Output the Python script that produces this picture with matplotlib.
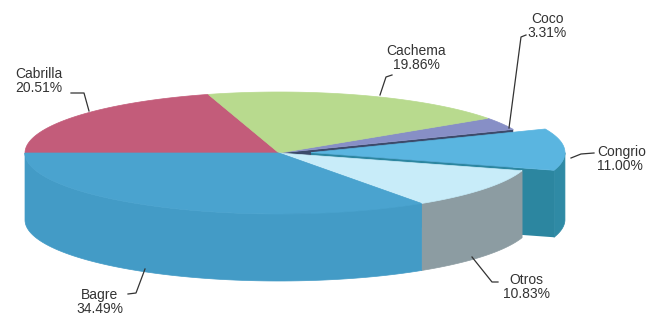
import matplotlib.pyplot as plt
import numpy as np
from matplotlib.patches import Polygon

plt.rcParams['font.family'] = ['Liberation Sans', 'DejaVu Sans']

# species shares, in the order they sit clockwise from the left edge
species = ['Cabrilla', 'Cachema', 'Coco', 'Congrio', 'Otros', 'Bagre']
shares = [20.51, 19.86, 3.31, 11.00, 10.83, 34.49]
explode = [0, 0, 0, 1, 0, 0]

top_colors = ['#c35c7a', '#b8da8e', '#878fc6', '#5ab5e0', '#c8ecf9', '#4aa3cf']
wall_colors = ['#9c4760', '#93ae70', '#5e6497', '#2f8aa5', '#8c9ca2', '#439bc6']

# projected pie geometry (pixels)
cx, cy = 279, 153
a, b = 254, 61
depth = 67
push = 32

fig = plt.figure(figsize=(6.5, 3.29), dpi=100)
ax = fig.add_axes([0, 0, 1, 1])
ax.set_xlim(0, 650)
ax.set_ylim(329, 0)
ax.axis('off')

def rim(t, ox, oy, dz=0):
    t = np.radians(t)
    return np.column_stack([ox + a * np.cos(t), oy - b * np.sin(t) + dz])

# slice angles, clockwise from 180 degrees
total = sum(shares)
angles = []
start = 180.0
for s in shares:
    end = start - 360.0 * s / total
    angles.append((end, start))
    start = end

def draw_walls(i, ox, oy):
    lo, hi = angles[i]
    # outer wall, only the part facing the viewer (lower half of the ellipse)
    w_lo, w_hi = max(lo, -180), min(hi, 0)
    if w_hi > w_lo:
        t = np.linspace(w_lo, w_hi, 80)
        upper = rim(t, ox, oy)
        lower = rim(t[::-1], ox, oy, depth)
        ax.add_patch(Polygon(np.vstack([upper, lower]), closed=True,
                             fc=wall_colors[i], ec=wall_colors[i], lw=0.5))
    # cut face on the clockwise edge, visible when it faces forward
    if explode[i] or (i + 1 < len(shares) and explode[i + 1]):
        e = rim([lo], ox, oy)[0]
        quad = [(ox, oy), e, (e[0], e[1] + depth), (ox, oy + depth)]
        shade = '#2c86a0' if explode[i] else '#3c4a6a'
        ax.add_patch(Polygon(quad, closed=True, fc=shade, ec='none'))

def draw_top(i, ox, oy):
    lo, hi = angles[i]
    t = np.linspace(hi, lo, 120)
    pts = np.vstack([[ox, oy], rim(t, ox, oy)])
    ax.add_patch(Polygon(pts, closed=True, fc=top_colors[i],
                         ec=top_colors[i], lw=0.5))

def offset(i):
    lo, hi = angles[i]
    mid = np.radians((lo + hi) / 2)
    return cx + explode[i] * push * np.cos(mid), cy - explode[i] * push * 0.25 * np.sin(mid)

# the thin Coco slice sits behind the gap left by the exploded slice
draw_walls(2, *offset(2))
draw_top(2, *offset(2))
for i in range(len(shares)):
    if explode[i]:
        ox, oy = offset(i)
        draw_walls(i, ox, oy)
        draw_top(i, ox, oy)
rest = [i for i in range(len(shares)) if not explode[i] and i != 2]
for i in rest:
    draw_walls(i, *offset(i))
for i in rest:
    draw_top(i, *offset(i))

# labels with leader lines
labels = [
    (15, 81, 'left', [(71, 93), (84, 93), (89, 111)]),
    (416, 58, 'center', [(392, 75), (386, 77), (380, 95)]),
    (547, 26, 'center', [(526, 35), (521, 37), (509, 128)]),
    (597, 159, 'left', [(594, 153), (581, 154), (571, 158)]),
    (526, 287, 'center', [(498, 282), (492, 282), (472, 257)]),
    (100, 302, 'center', [(128, 294), (136, 293), (145, 269)]),
]
for (x, y, ha, line), name, s in zip(labels, species, shares):
    ax.text(x, y, f'{name}\n{s:.2f}%', ha=ha, va='center', fontsize=10,
            color='#333333', linespacing=1.05)
    xs, ys = zip(*line)
    ax.plot(xs, ys, color='#333333', lw=0.9)

plt.savefig('out.png', dpi=100)
